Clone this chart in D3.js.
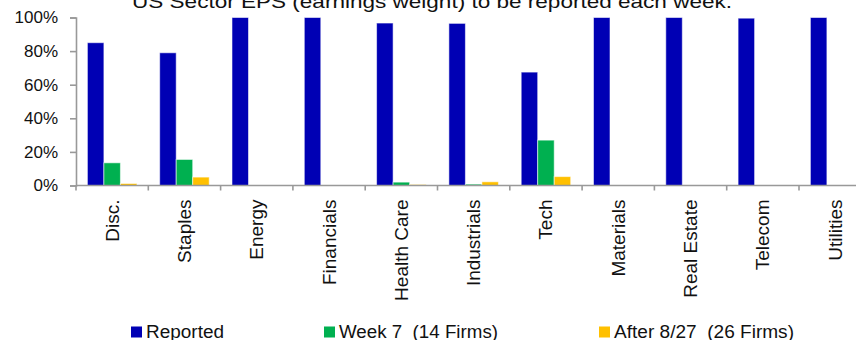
<!DOCTYPE html>
<html>
<head>
<meta charset="utf-8">
<script src="https://cdn.jsdelivr.net/npm/d3@7"></script>
<style>
  html, body { margin: 0; padding: 0; background: #fff; }
  svg { display: block; }
  text { font-family: "Liberation Sans", Arial, sans-serif; fill: #111; }
</style>
</head>
<body>
<svg id="chart" width="856" height="340"></svg>
<script>
// Sector categories
const sectors = ["Disc.", "Staples", "Energy", "Financials", "Health Care", "Industrials",
  "Tech", "Materials", "Real Estate", "Telecom", "Utilities"];

// Share of sector earnings weight (%)
const reported = [85, 79, 100, 100, 96.7, 96.5, 67.5, 100, 100, 99.6, 100];
const week7    = [13.5, 15.5, 0, 0, 2, 0.8, 27, 0, 0, 0, 0];
const after827 = [1.2, 5, 0, 0, 0.6, 2.2, 5.3, 0, 0, 0, 0];

const seriesNames = ["Reported", "Week 7  (14 Firms)", "After 8/27  (26 Firms)"];
const seriesColors = ["#0000B4", "#00B050", "#FFC000"];
const yTicks = [0, 20, 40, 60, 80, 100];

const seriesValues = [reported, week7, after827];

const svg = d3.select("#chart");

const plotLeft = 76, plotTop = 17.5, plotBottom = 185.5;
const step = 72.3;

const x0 = d3.scaleBand().domain(sectors).range([plotLeft, plotLeft + step * sectors.length]).padding(0);
const x1 = d3.scaleBand().domain(d3.range(3)).range([0, x0.bandwidth()]).paddingInner(0).paddingOuter(0.69);
const y = d3.scaleLinear().domain([0, 100]).range([plotBottom, plotTop]);

// Title (runs off the top edge)
svg.append("text")
  .attr("x", 432).attr("y", 7.5)
  .attr("text-anchor", "middle")
  .attr("textLength", 600).attr("lengthAdjust", "spacingAndGlyphs")
  .style("font-size", "19px")
  .text("US Sector EPS (earnings weight) to be reported each week.");

// Bars
const groups = svg.append("g").selectAll("g")
  .data(sectors)
  .join("g")
  .attr("transform", d => `translate(${x0(d)},0)`);

groups.selectAll("rect")
  .data((d, i) => seriesValues.map((vals, s) => ({ s, v: vals[i] })).filter(e => e.v > 0))
  .join("rect")
  .attr("x", e => x1(e.s))
  .attr("width", x1.bandwidth())
  .attr("y", e => y(e.v))
  .attr("height", e => plotBottom - y(e.v))
  .attr("fill", e => seriesColors[e.s])
  .attr("stroke", "rgba(255,255,255,0.55)")
  .attr("stroke-width", 1);

// Y axis
const yAxis = d3.axisLeft(y).tickValues(yTicks).tickSize(6).tickPadding(12)
  .tickFormat(d => d + "%");
const yg = svg.append("g").attr("transform", `translate(${plotLeft},0)`).call(yAxis);
yg.select(".domain").attr("stroke", "#999").attr("stroke-width", 1.6);
yg.selectAll(".tick line").attr("stroke", "#999").attr("stroke-width", 1.6);
yg.selectAll(".tick text").style("font-size", "17px").attr("fill", "#111")
  .style("font-family", "'Liberation Sans', Arial, sans-serif");

// X axis baseline with tick marks at category boundaries
const xg = svg.append("g");
xg.append("line")
  .attr("x1", plotLeft).attr("x2", 856)
  .attr("y1", plotBottom).attr("y2", plotBottom)
  .attr("stroke", "#999").attr("stroke-width", 1.6);
xg.selectAll("line.tk")
  .data(sectors)
  .join("line")
  .attr("class", "tk")
  .attr("x1", d => x0(d)).attr("x2", d => x0(d))
  .attr("y1", plotBottom).attr("y2", plotBottom + 5)
  .attr("stroke", "#999").attr("stroke-width", 1.6);

// Rotated category labels
xg.selectAll("text")
  .data(sectors)
  .join("text")
  .attr("transform", d => `translate(${x0(d) + x0.bandwidth() / 2 + 6.5},199.5) rotate(-90)`)
  .attr("text-anchor", "end")
  .style("font-size", "19px")
  .text(d => d);

// Legend
const legendX = [131, 324, 599];
const legendLen = [78, 159, 180];
const legend = svg.append("g");
seriesNames.forEach((name, i) => {
  legend.append("rect")
    .attr("x", legendX[i]).attr("y", 326.5)
    .attr("width", 11).attr("height", 11)
    .attr("fill", seriesColors[i]);
  legend.append("text")
    .attr("x", legendX[i] + 15).attr("y", 337.5)
    .attr("textLength", legendLen[i]).attr("lengthAdjust", "spacingAndGlyphs")
    .style("font-size", "18px")
    .style("white-space", "pre")
    .text(name);
});
</script>
</body>
</html>
